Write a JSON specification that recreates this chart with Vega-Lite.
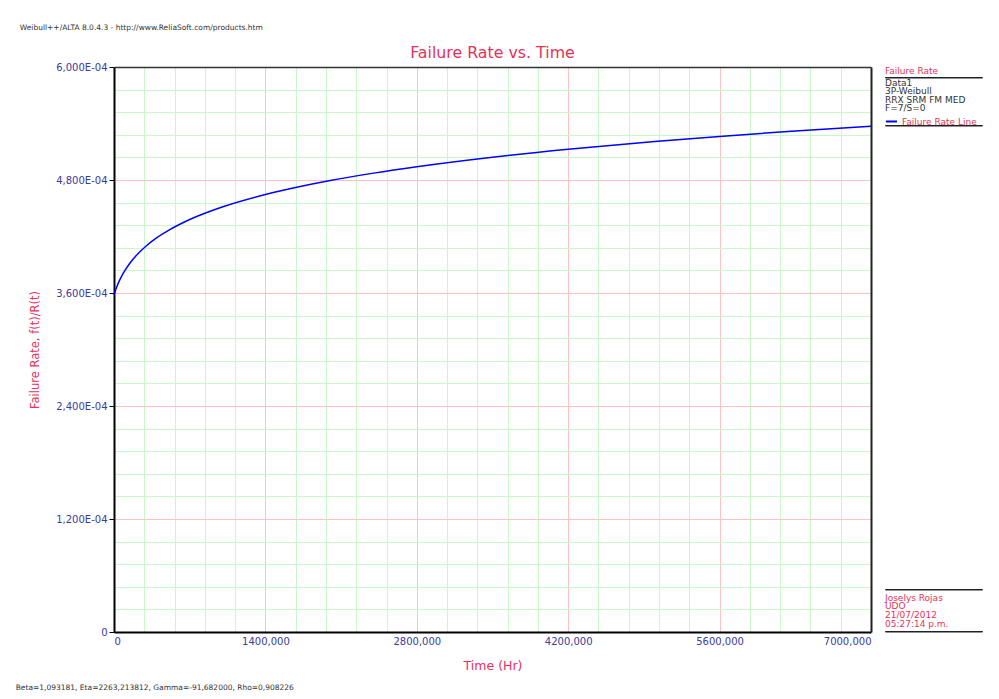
{
  "$schema": "https://vega.github.io/schema/vega-lite/v6.json",
  "background": "white",
  "padding": {"left": 15, "top": 23, "right": 0, "bottom": 0},
  "title": {
    "text": "Beta=1,093181, Eta=2263,213812, Gamma=-91,682000, Rho=0,908226",
    "orient": "bottom",
    "anchor": "start",
    "fontSize": 7.5,
    "fontWeight": "normal",
    "color": "#333333",
    "offset": 12,
    "dx": -4
  },
  "resolve": {"scale": {"color": "independent"}, "legend": {"color": "independent"}},
  "vconcat": [
    {
      "title": {
        "text": "Weibull++/ALTA 8.0.4.3 - http://www.ReliaSoft.com/products.htm",
        "anchor": "start",
        "fontSize": 7.5,
        "fontWeight": "normal",
        "color": "#333333",
        "offset": 14,
        "dx": -10
      },
      "bounds": "flush",
      "spacing": 14,
      "resolve": {"scale": {"color": "independent"}, "legend": {"color": "independent"}},
      "hconcat": [
        {
          "width": 757,
          "height": 565,
          "title": {
            "text": "Failure Rate vs. Time",
            "fontSize": 15.8,
            "fontWeight": "normal",
            "color": "#e6325a",
            "offset": 0
          },
          "view": {"stroke": null},
          "data": {
            "values": [
              {"t": 0, "h": 0.0003583},
              {"t": 5, "h": 0.0003600},
              {"t": 10, "h": 0.0003617},
              {"t": 25, "h": 0.0003664},
              {"t": 50, "h": 0.0003731},
              {"t": 75, "h": 0.0003788},
              {"t": 100, "h": 0.0003837},
              {"t": 150, "h": 0.0003922},
              {"t": 200, "h": 0.0003991},
              {"t": 300, "h": 0.0004102},
              {"t": 400, "h": 0.0004190},
              {"t": 500, "h": 0.0004262},
              {"t": 700, "h": 0.0004380},
              {"t": 1000, "h": 0.0004513},
              {"t": 1400, "h": 0.0004646},
              {"t": 1700, "h": 0.0004726},
              {"t": 2000, "h": 0.0004795},
              {"t": 2400, "h": 0.0004873},
              {"t": 2800, "h": 0.0004941},
              {"t": 3500, "h": 0.0005042},
              {"t": 4200, "h": 0.0005127},
              {"t": 5000, "h": 0.0005209},
              {"t": 5600, "h": 0.0005263},
              {"t": 6300, "h": 0.0005321},
              {"t": 7000, "h": 0.0005372}
            ]
          },
          "layer": [
            {
              "data": {"values": []},
              "mark": "point",
              "encoding": {
                "x": {
                  "field": "t",
                  "type": "quantitative",
                  "scale": {"domain": [0, 7000], "nice": false, "zero": false},
                  "axis": {
                    "orient": "bottom",
                    "values": [280, 560, 840, 1120, 1680, 1960, 2240, 2520, 3080, 3360, 3640, 3920, 4480, 4760, 5040, 5320, 5880, 6160, 6440, 6720],
                    "grid": true,
                    "gridColor": "#c8f7c8",
                    "gridWidth": 1,
                    "labels": false,
                    "ticks": false,
                    "domain": false,
                    "title": null
                  }
                },
                "y": {
                  "field": "h",
                  "type": "quantitative",
                  "scale": {"domain": [0, 0.0006], "nice": false},
                  "axis": {
                    "orient": "left",
                    "values": [0.000024, 0.000048, 0.000072, 0.000096, 0.000144, 0.000168, 0.000192, 0.000216, 0.000264, 0.000288, 0.000312, 0.000336, 0.000384, 0.000408, 0.000432, 0.000456, 0.000504, 0.000528, 0.000552, 0.000576],
                    "grid": true,
                    "gridColor": "#c8f7c8",
                    "gridWidth": 1,
                    "labels": false,
                    "ticks": false,
                    "domain": false,
                    "title": null
                  }
                }
              }
            },
            {
              "mark": {"type": "line", "color": "#0000ff", "strokeWidth": 1.5, "interpolate": "monotone"},
              "encoding": {
                "x": {
                  "field": "t",
                  "type": "quantitative",
                  "scale": {"domain": [0, 7000], "nice": false, "zero": false},
                  "axis": {
                    "orient": "bottom",
                    "values": [0, 1400, 2800, 4200, 5600, 7000],
                    "labelExpr": "datum.value == 0 ? '0' : format(datum.value, 'd') + ',000'",
                    "grid": true,
                    "gridColor": "#ffc2c2",
                    "gridWidth": 1,
                    "ticks": false,
                    "labelPadding": 4,
                    "labelColor": "#3a3aa0",
                    "labelFontSize": 10,
                    "domainColor": "#000000",
                    "domainWidth": 2,
                    "title": "Time (Hr)",
                    "titleColor": "#e6325a",
                    "titleFontSize": 12.5,
                    "titleFontWeight": "normal",
                    "titlePadding": 13
                  }
                },
                "y": {
                  "field": "h",
                  "type": "quantitative",
                  "scale": {"domain": [0, 0.0006], "nice": false},
                  "axis": {
                    "orient": "left",
                    "values": [0, 0.00012, 0.00024, 0.00036, 0.00048, 0.0006],
                    "labelExpr": "datum.value == 0 ? '0' : replace(format(datum.value * 10000, '.3f'), '.', ',') + 'E-04'",
                    "grid": true,
                    "gridColor": "#ffc2c2",
                    "gridWidth": 1,
                    "ticks": true,
                    "tickSize": 5,
                    "tickColor": "#000000",
                    "labelPadding": 2,
                    "labelColor": "#3a3aa0",
                    "labelFontSize": 10,
                    "domainColor": "#000000",
                    "domainWidth": 2,
                    "title": "Failure Rate, f(t)/R(t)",
                    "titleColor": "#e6325a",
                    "titleFontSize": 11.5,
                    "titleFontWeight": "normal",
                    "titlePadding": 15
                  }
                }
              }
            },
            {
              "data": {"values": []},
              "mark": "point",
              "encoding": {
                "x": {
                  "field": "t",
                  "type": "quantitative",
                  "scale": {"domain": [0, 7000], "nice": false, "zero": false},
                  "axis": {
                    "orient": "top",
                    "labels": false,
                    "ticks": false,
                    "grid": false,
                    "domain": true,
                    "domainColor": "#333333",
                    "domainWidth": 1.5,
                    "title": null,
                    "zindex": 1
                  }
                },
                "y": {
                  "field": "h",
                  "type": "quantitative",
                  "scale": {"domain": [0, 0.0006], "nice": false},
                  "axis": {
                    "orient": "right",
                    "labels": false,
                    "ticks": false,
                    "grid": false,
                    "domain": true,
                    "domainColor": "#222222",
                    "domainWidth": 2,
                    "title": null,
                    "zindex": 1
                  }
                }
              }
            }
          ],
          "resolve": {"axis": {"x": "independent", "y": "independent"}}
        },
        {
          "spacing": 0,
          "resolve": {"scale": {"color": "independent"}, "legend": {"color": "independent"}},
          "vconcat": [
            {
              "width": 97,
              "height": 0.5,
              "data": {"values": []},
              "mark": "point",
              "view": {"stroke": null},
              "title": {
                "text": "Failure Rate",
                "orient": "bottom",
                "anchor": "start",
                "fontSize": 9,
                "fontWeight": "normal",
                "color": "#e6325a",
                "offset": -1
              }
            },
            {
              "width": 97,
              "height": 0.5,
              "data": {"values": []},
              "mark": "point",
              "view": {"stroke": "#222222", "strokeWidth": 1},
              "title": {
                "text": ["Data1", "3P-Weibull", "RRX SRM FM MED", "F=7/S=0"],
                "orient": "bottom",
                "anchor": "start",
                "fontSize": 9,
                "lineHeight": 8.5,
                "fontWeight": "normal",
                "color": "#333333",
                "offset": 1
              }
            },
            {
              "width": 97,
              "height": 0.5,
              "data": {"values": []},
              "mark": {"type": "line"},
              "encoding": {
                "color": {
                  "datum": "Failure Rate Line",
                  "scale": {"range": ["#0000ff"]},
                  "legend": {
                    "orient": "top",
                    "title": null,
                    "symbolType": "stroke",
                    "symbolStrokeWidth": 2,
                    "symbolSize": 120,
                    "labelColor": "#e6325a",
                    "labelFontSize": 9,
                    "labelOffset": 4,
                    "offset": -2,
                    "padding": 0
                  }
                }
              },
              "view": {"stroke": "#222222", "strokeWidth": 1}
            },
            {
              "width": 97,
              "height": 459.5,
              "data": {"values": []},
              "mark": "point",
              "view": {"stroke": null}
            },
            {
              "width": 97,
              "height": 0.5,
              "data": {"values": []},
              "mark": "point",
              "view": {"stroke": "#222222", "strokeWidth": 1},
              "title": {
                "text": ["Joselys Rojas", "UDO", "21/07/2012", "05:27:14 p.m."],
                "orient": "bottom",
                "anchor": "start",
                "fontSize": 9,
                "lineHeight": 8.7,
                "fontWeight": "normal",
                "color": "#e6325a",
                "offset": 4
              }
            },
            {
              "width": 97,
              "height": 0.5,
              "data": {"values": []},
              "mark": "point",
              "view": {"stroke": "#222222", "strokeWidth": 1}
            }
          ]
        }
      ]
    }
  ],
  "config": {
    "font": "DejaVu Sans",
    "view": {"stroke": null}
  }
}
